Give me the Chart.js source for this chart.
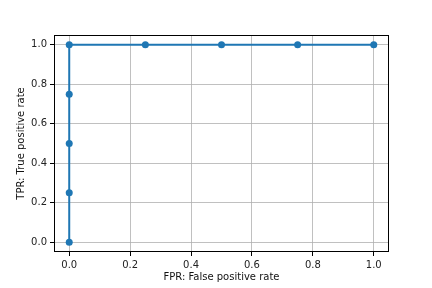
<!DOCTYPE html>
<html>
<head>
<meta charset="utf-8">
<script src="https://cdn.jsdelivr.net/npm/chart.js@4/dist/chart.umd.min.js"></script>
<style>
  html, body { margin: 0; padding: 0; background: #fff; }
  #wrap { width: 432px; height: 288px; }
</style>
</head>
<body>
<div id="wrap"><canvas id="rocChart" width="432" height="288"></canvas></div>
<script>
var fpr = [0, 0, 0, 0, 0, 0.25, 0.5, 0.75, 1.0];
var tpr = [0, 0.25, 0.5, 0.75, 1.0, 1.0, 1.0, 1.0, 1.0];
var xTicks = [0, 0.2, 0.4, 0.6, 0.8, 1.0];
var yTicks = [0, 0.2, 0.4, 0.6, 0.8, 1.0];

var points = fpr.map(function(x, i) { return { x: x, y: tpr[i] }; });

// all four spines, matplotlib style
var frame = {
  id: 'frame',
  afterDatasetsDraw: function(chart) {
    var a = chart.chartArea, ctx = chart.ctx;
    ctx.save();
    ctx.strokeStyle = '#000';
    ctx.lineWidth = 1;
    ctx.strokeRect(Math.round(a.left) + 0.5, Math.round(a.top) + 0.5,
      Math.round(a.right - a.left) - 1, Math.round(a.bottom - a.top) - 1);
    ctx.restore();
  }
};

var tickFont = { family: 'DejaVu Sans', size: 10 };

new Chart(document.getElementById('rocChart').getContext('2d'), {
  type: 'scatter',
  data: {
    datasets: [{
      data: points,
      showLine: true,
      borderColor: '#1f77b4',
      backgroundColor: '#1f77b4',
      borderWidth: 2,
      pointRadius: 3.5,
      pointHoverRadius: 3.5,
      pointBorderWidth: 0
    }]
  },
  options: {
    responsive: false,
    animation: false,
    events: [],
    layout: { padding: { left: 0, top: 35, right: 43, bottom: 0 } },
    plugins: { legend: { display: false }, tooltip: { enabled: false } },
    scales: {
      x: {
        type: 'linear',
        min: -0.05,
        max: 1.05,
        afterBuildTicks: function(s) { s.ticks = xTicks.map(function(v) { return { value: v }; }); },
        afterFit: function(s) { s.height = 36; },
        grid: { color: '#b0b0b0', lineWidth: 0.8, drawTicks: true, tickLength: 4, tickColor: '#000', tickWidth: 1 },
        border: { display: false },
        ticks: { color: '#222', font: tickFont, padding: 3, maxRotation: 0,
          callback: function(v) { return v.toFixed(1); } },
        title: { display: true, text: 'FPR: False positive rate', color: '#111', font: tickFont, padding: 5 }
      },
      y: {
        type: 'linear',
        min: -0.05,
        max: 1.05,
        afterBuildTicks: function(s) { s.ticks = yTicks.map(function(v) { return { value: v }; }); },
        afterFit: function(s) { s.width = 54; },
        grid: { color: '#b0b0b0', lineWidth: 0.8, drawTicks: true, tickLength: 4, tickColor: '#000', tickWidth: 1 },
        border: { display: false },
        ticks: { color: '#222', font: tickFont, padding: 3,
          callback: function(v) { return v.toFixed(1); } },
        title: { display: true, text: 'TPR: True positive rate', color: '#111', font: tickFont, padding: 15 }
      }
    }
  },
  plugins: [frame]
});
</script>
</body>
</html>
